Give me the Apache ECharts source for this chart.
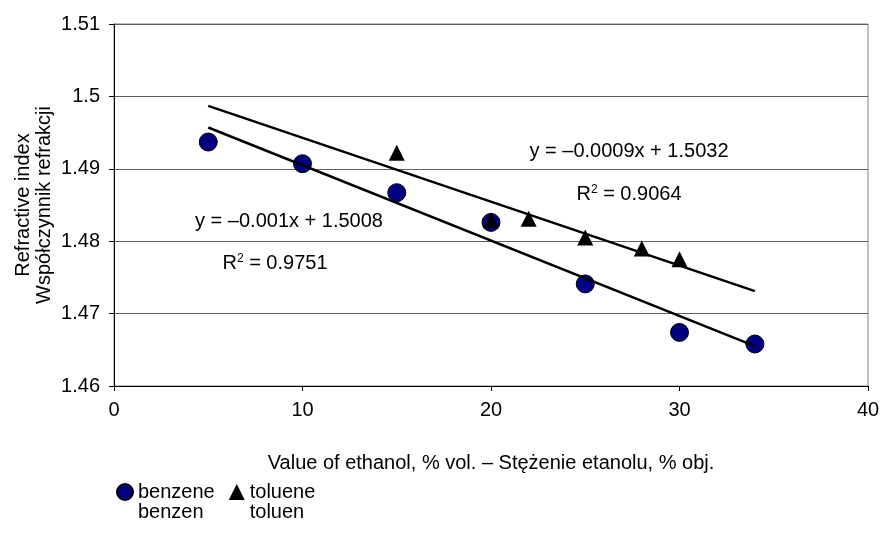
<!DOCTYPE html>
<html>
<head>
<meta charset="utf-8">
<title>Refractive index vs ethanol</title>
<script src="https://cdn.jsdelivr.net/npm/echarts@6/dist/echarts.min.js"></script>
<style>
  html, body { margin: 0; padding: 0; background: #fff; }
  #chart { width: 880px; height: 536px; }
</style>
</head>
<body>
<div id="chart"></div>
<script>
// values
const benzeneX = [5, 10, 15, 20, 25, 30, 34];
const benzeneY = [1.4937, 1.4907, 1.4867, 1.4826, 1.4741, 1.4674, 1.4658];
const tolueneX = [15, 20, 22, 25, 28, 30];
const tolueneY = [1.4922, 1.4829, 1.4831, 1.4805, 1.4790, 1.4775];

// trend lines (Excel linear fits), end points
const trendX = [5, 34];
const benzeneTrendY = [1.4957, 1.4655];
const tolueneTrendY = [1.4987, 1.4731];

const seriesNames = ['benzene\nbenzen', 'toluene\ntoluen'];
const equations = ['y = \u20130.001x + 1.5008', 'y = \u20130.0009x + 1.5032'];
const rSquared = ['0.9751', '0.9064'];

const xTitle = 'Value of ethanol, % vol. \u2013 St\u0119\u017cenie etanolu, % obj.';
const yTitle = 'Refractive index\nWsp\u00f3\u0142czynnik refrakcji';

const FONT = 'Liberation Sans, Arial, sans-serif';
const FS = 20;

let zip = (xs, ys) => xs.map((x, i) => [x, ys[i]]);

let chart = echarts.init(document.getElementById('chart'));

chart.setOption({
    animation: false,
    backgroundColor: '#fff',
    textStyle: { fontFamily: FONT },
    grid: {
        left: 114, right: 12, top: 24, bottom: 150,
        outerBoundsMode: 'none',
        show: true, borderColor: '#808080', borderWidth: 1,
        backgroundColor: 'transparent'
    },
    xAxis: {
        type: 'value',
        min: 0, max: 40, interval: 10,
        axisLine: { lineStyle: { color: '#000', width: 1 } },
        axisTick: { show: true, length: 5, lineStyle: { color: '#000' } },
        splitLine: { show: false },
        axisLabel: { color: '#000', fontSize: FS, fontFamily: FONT, margin: 14 },
        name: xTitle,
        nameLocation: 'middle',
        nameGap: 67,
        nameMoveOverlap: false,
        nameTextStyle: { color: '#000', fontSize: FS, fontFamily: FONT }
    },
    yAxis: {
        type: 'value',
        min: 1.46, max: 1.51, interval: 0.01,
        axisLine: { show: true, lineStyle: { color: '#000', width: 1 } },
        axisTick: { show: true, length: 5, lineStyle: { color: '#000' } },
        splitLine: { show: true, lineStyle: { color: '#606060', width: 1 } },
        axisLabel: {
            color: '#000', fontSize: FS, fontFamily: FONT, margin: 14,
            formatter: v => String(+v.toFixed(2))
        },
        name: yTitle,
        nameLocation: 'middle',
        nameGap: 59,
        nameMoveOverlap: false,
        nameTextStyle: { color: '#000', fontSize: FS, fontFamily: FONT, lineHeight: 21 }
    },
    legend: {
        left: 111, top: 457,
        itemWidth: 16, itemHeight: 16, itemGap: 14,
        data: [
            { name: seriesNames[0], icon: 'circle' },
            { name: seriesNames[1], icon: 'triangle' }
        ],
        // blank first line so the marker sits beside the first text line
        formatter: name => ' \n' + name,
        textStyle: { color: '#000', fontSize: FS, fontFamily: FONT, lineHeight: 20 }
    },
    series: [
        {
            name: seriesNames[0],
            type: 'scatter',
            symbol: 'circle',
            symbolSize: 18,
            itemStyle: { color: '#000080', borderColor: '#000', borderWidth: 1, opacity: 1 },
            data: zip(benzeneX, benzeneY),
            z: 2
        },
        {
            name: seriesNames[1],
            type: 'scatter',
            symbol: 'triangle',
            symbolSize: 16,
            itemStyle: { color: '#000', opacity: 1 },
            data: zip(tolueneX, tolueneY),
            z: 3
        },
        {
            name: 'trend benzene',
            type: 'line',
            showSymbol: false,
            lineStyle: { color: '#000', width: 2.5 },
            data: zip(trendX, benzeneTrendY),
            z: 4
        },
        {
            name: 'trend toluene',
            type: 'line',
            showSymbol: false,
            lineStyle: { color: '#000', width: 2.5 },
            data: zip(trendX, tolueneTrendY),
            z: 4
        }
    ],
    graphic: [
        { type: 'text', x: 289, y: 221, style: { text: equations[0], font: FS + 'px ' + FONT, fill: '#000', align: 'center', verticalAlign: 'middle' } },
        { type: 'text', x: 275, y: 263, style: { text: 'R{s|2} = ' + rSquared[0], font: FS + 'px ' + FONT, fill: '#000', align: 'center', verticalAlign: 'middle',
            rich: { s: { fontSize: 12, fontFamily: FONT, verticalAlign: 'top' } } } },
        { type: 'text', x: 629, y: 151, style: { text: equations[1], font: FS + 'px ' + FONT, fill: '#000', align: 'center', verticalAlign: 'middle' } },
        { type: 'text', x: 629, y: 194, style: { text: 'R{s|2} = ' + rSquared[1], font: FS + 'px ' + FONT, fill: '#000', align: 'center', verticalAlign: 'middle',
            rich: { s: { fontSize: 12, fontFamily: FONT, verticalAlign: 'top' } } } }
    ]
});
</script>
</body>
</html>
